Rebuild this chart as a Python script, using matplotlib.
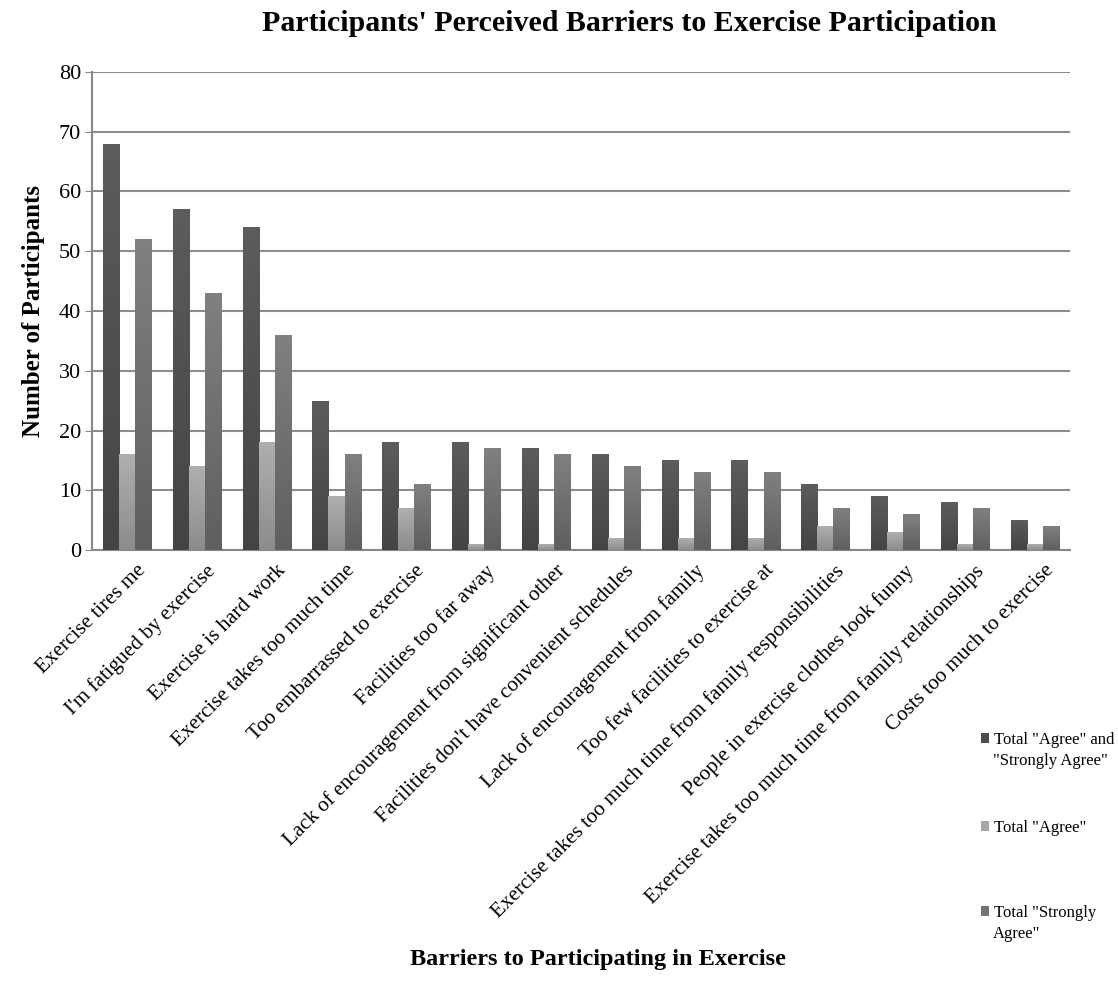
import numpy as np
import matplotlib.pyplot as plt
from matplotlib.colors import LinearSegmentedColormap
from matplotlib.transforms import ScaledTranslation

barriers = ["Exercise tires me", "I'm fatigued by exercise", "Exercise is hard work",
            "Exercise takes too much time", "Too embarrassed to exercise",
            "Facilities too far away", "Lack of encouragement from significant other",
            "Facilities don't have convenient schedules", "Lack of encouragement from family",
            "Too few facilities to exercise at",
            "Exercise takes too much time from family responsibilities",
            "People in exercise clothes look funny",
            "Exercise takes too much time from family relationships",
            "Costs too much to exercise"]
agree_strongly = [68, 57, 54, 25, 18, 18, 17, 16, 15, 15, 11, 9, 8, 5]
agree = [16, 14, 18, 9, 7, 1, 1, 2, 2, 2, 4, 3, 1, 1]
strongly = [52, 43, 36, 16, 11, 17, 16, 14, 13, 13, 7, 6, 7, 4]
legend_first = ['Total "Agree" and', 'Total "Agree"', 'Total "Strongly']
legend_rest = ['"Strongly Agree"', '', 'Agree"']
colors = ["#4c4c4c", "#a6a6a6", "#747474"]
# top / bottom shades for the vertical gradient of each series
shades = [("#5c5c5c", "#444444"), ("#afafaf", "#8c8c8c"), ("#808080", "#5f5f5f")]

plt.rcParams['font.family'] = ['Liberation Serif', 'DejaVu Serif']

fig = plt.figure(figsize=(11.18, 10.05), dpi=100)
ax = fig.add_axes([0.0823, 0.4527, 0.8747, 0.4757])

x = np.arange(len(barriers))
w = 0.23
grad = np.linspace(0, 1, 64).reshape(-1, 1)
bars = []
for i, vals in enumerate([agree_strongly, agree, strongly]):
    b = ax.bar(x + (i - 1) * w, vals, width=w, color=colors[i], zorder=3)
    bars.append(b)
    cmap = LinearSegmentedColormap.from_list("g%d" % i, [shades[i][1], shades[i][0]])
    for p in b:
        x0, y0 = p.get_x(), p.get_y()
        im = ax.imshow(grad, extent=[x0, x0 + p.get_width(), y0, y0 + p.get_height()],
                       origin='lower', cmap=cmap, aspect='auto', zorder=3.5)
        im.set_clip_path(p)

ax.set_xlim(-0.5, len(barriers) - 0.5)
ax.set_ylim(0, 80)
ax.set_yticks(range(0, 81, 10))
ax.tick_params(axis='y', labelsize=16, length=5, color="#888888", pad=3)
ax.grid(axis='y', color="#8c8c8c", linewidth=1.5, zorder=0)
ax.set_xticks(x)
ax.set_xticklabels(barriers, rotation=45, ha='right', rotation_mode='anchor', fontsize=15.2)
ax.tick_params(axis='x', length=0, pad=8)
shift = ScaledTranslation(9 / 100, 0, fig.dpi_scale_trans)
for lbl in ax.get_xticklabels():
    lbl.set_transform(lbl.get_transform() + shift)
for s in ['top', 'right']:
    ax.spines[s].set_visible(False)
for s in ['left', 'bottom']:
    ax.spines[s].set_color("#888888")
    ax.spines[s].set_linewidth(1.5)

ax.set_ylabel("Number of Participants", fontsize=18, fontweight='bold', labelpad=10)
fig.text(0.535, 0.045, "Barriers to Participating in Exercise", ha='center', va='center',
         fontsize=17.5, fontweight='bold')
fig.text(0.563, 0.977, "Participants' Perceived Barriers to Exercise Participation",
         ha='center', va='center', fontsize=21.5, fontweight='bold')

# legend: one entry per block, square beside the first line
ys = [740, 828, 913]
for b, first, rest, yp in zip(bars, legend_first, legend_rest, ys):
    lg = fig.legend([b], [first], loc='center left', bbox_to_anchor=(0.8775, 1 - yp / 1005),
                    frameon=False, fontsize=12, handlelength=0.5, handleheight=0.5,
                    handletextpad=0.25, borderaxespad=0, borderpad=0)
    if rest:
        fig.text(0.8885, 1 - (yp + 21) / 1005, rest, ha='left', va='center', fontsize=12)

fig.savefig("out.png", dpi=100)
